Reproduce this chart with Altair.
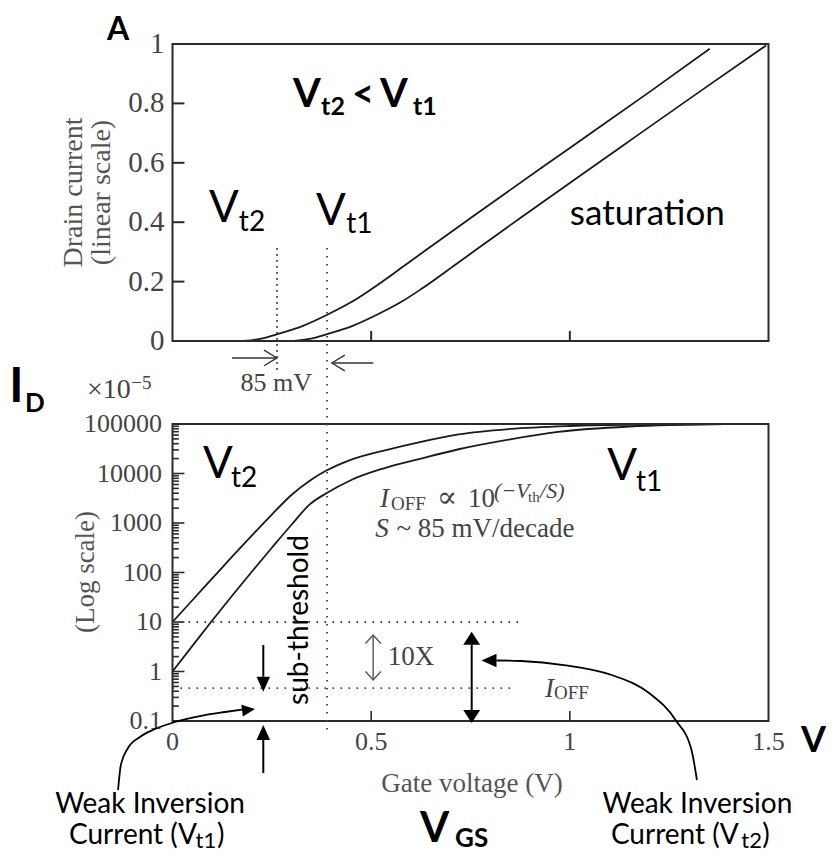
import altair as alt
import pandas as pd

SERIF = "Liberation Serif"
SANS = "Lato"
INK = "#1a1a1a"
GRAY = "#444444"
TGRAY = "#555555"

# ---------------- data ----------------
# top panel (linear drain current)
top_v_vt2 = [0.18, 0.22, 0.266, 0.33, 0.392, 0.45, 0.501, 0.585, 0.675, 0.753, 1.0, 1.2, 1.352]
top_i_vt2 = [0.0, 0.007, 0.024, 0.052, 0.09, 0.131, 0.175, 0.255, 0.342, 0.417, 0.65, 0.838, 0.984]
top_v_vt1 = [0.305, 0.345, 0.391, 0.455, 0.517, 0.575, 0.626, 0.71, 0.80, 0.878, 1.125, 1.325, 1.494]
top_i_vt1 = [0.0, 0.007, 0.024, 0.052, 0.09, 0.131, 0.175, 0.255, 0.342, 0.417, 0.65, 0.838, 0.995]

# bottom panel (log drain current, x1e-5)
log_v_vt2 = [0, 0.05, 0.10, 0.15, 0.20, 0.25, 0.30, 0.35, 0.385, 0.45, 0.55, 0.62, 0.72, 0.85, 1.0, 1.2, 1.39]
log_i_vt2 = [10, 27.5, 75.9, 209, 562, 1480, 3720, 7590, 11200, 19100, 31600, 42700, 61700, 79400, 91200, 97700, 100000]
log_v_vt1 = [0, 0.05, 0.10, 0.15, 0.20, 0.25, 0.30, 0.346, 0.385, 0.45, 0.53, 0.62, 0.72, 0.85, 0.97, 1.15, 1.39]
log_i_vt1 = [1, 3.3, 10.7, 33.9, 105, 316, 933, 2400, 3890, 7410, 12600, 19500, 30900, 49000, 69200, 89100, 100000]

x_ticks = [0, 0.5, 1, 1.5]
x_labels = ["0", "0.5", "1", "1.5"]
lin_ticks = [0, 0.2, 0.4, 0.6, 0.8, 1]
lin_labels = ["0", "0.2", "0.4", "0.6", "0.8", "1"]
log_ticks = [0.1, 1, 10, 100, 1000, 10000, 100000]
log_labels = ["0.1", "1", "10", "100", "1000", "10000", "100000"]
minor_mult = [2, 3, 4, 5, 6, 7, 8, 9]

vt2_marker = 0.263   # V_t2 dotted marker
vt1_marker = 0.389   # V_t1 dotted marker
ioff_levels = [10, 0.46]

# ---------------- scales ----------------
XS = alt.Scale(domain=[0, 1.5], nice=False, zero=False)
TS = alt.Scale(domain=[0, 1], range=[297, 0], nice=False, zero=False)
BS = alt.Scale(type="log", domain=[0.1, 100000], range=[677, 380], nice=False)


def texts(rows, scale, **mk):
    df = pd.DataFrame(rows, columns=["x", "y", "t"])
    return alt.Chart(df).mark_text(**mk).encode(
        x=alt.X("x:Q", scale=XS, axis=None),
        y=alt.Y("y:Q", scale=scale, axis=None),
        text="t:N")


def rules(rows, scale, **mk):
    df = pd.DataFrame(rows, columns=["x", "x2", "y", "y2"])
    return alt.Chart(df).mark_rule(**mk).encode(
        x=alt.X("x:Q", scale=XS, axis=None), x2="x2:Q",
        y=alt.Y("y:Q", scale=scale, axis=None), y2="y2:Q")


def heads(rows, scale, shape, filled=True, **mk):
    df = pd.DataFrame(rows, columns=["x", "y", "a", "s"])
    return alt.Chart(df).mark_point(shape=shape, filled=filled, opacity=1, **mk).encode(
        x=alt.X("x:Q", scale=XS, axis=None),
        y=alt.Y("y:Q", scale=scale, axis=None),
        angle=alt.Angle("a:Q", scale=None),
        size=alt.Size("s:Q", scale=None))


CHEV = "M-1,-0.6L0,0L-1,0.6"
CHEV2 = "M-1,-0.9L0,0L-1,0.9"
TRI = "M0,0L-1,-0.45L-1,0.45Z"
TRI_W = "M0,0L-1,-0.65L-1,0.65Z"

# ---------------- top panel ----------------
top_df = pd.concat([
    pd.DataFrame({"x": top_v_vt2, "y": top_i_vt2, "s": "Vt2"}),
    pd.DataFrame({"x": top_v_vt1, "y": top_i_vt1, "s": "Vt1"}),
])
top_curves = alt.Chart(top_df).mark_line(color=INK, strokeWidth=1.8, interpolate="monotone").encode(
    x=alt.X("x:Q", scale=XS, axis=None),
    y=alt.Y("y:Q", scale=TS, axis=None),
    detail="s:N")

top_frame = alt.Chart(pd.DataFrame({"x": [0], "x2": [1.5], "y": [0], "y2": [1]})).mark_rect(
    filled=False, stroke="#2a2a2a", strokeWidth=2, fillOpacity=0).encode(
    x=alt.X("x:Q", scale=XS, axis=None), x2="x2:Q",
    y=alt.Y("y:Q", scale=TS, axis=None), y2="y2:Q")

top_ticks = rules([(0, 0.030, t, t) for t in lin_ticks[1:-1]] +
                  [(t, t, 0, 0.034) for t in x_ticks[1:-1]], TS, color="#2a2a2a", strokeWidth=2)

top_ylabels = texts([(-0.020, t, s) for t, s in zip(lin_ticks, lin_labels)], TS, font=SERIF,
                    fontSize=29, align="right", baseline="middle", color=GRAY)
top_ytitle = texts([(-0.2290, 0.5, "Drain current"), (-0.1585, 0.5, "(linear scale)")], TS,
                   font=SERIF, fontSize=28, angle=270, align="center", baseline="alphabetic", color=TGRAY)

top_dotted = rules([(vt2_marker, vt2_marker, 0.313, -0.104)], TS,
                   color=GRAY, strokeWidth=1.8, strokeDash=[1.6, 4.4])

top_arrows = rules([(0.150, 0.263, -0.057, -0.057), (0.505, 0.401, -0.074, -0.074)], TS,
                   color="#333333", strokeWidth=1.4)
top_chev = heads([(0.263, -0.057, 0, 676), (0.401, -0.074, 180, 676)], TS, CHEV, filled=False,
                 stroke="#333333", strokeWidth=1.4)

top_bold_big = texts([(-0.165, 1.0135, "A")], TS, font=SANS, fontSize=32, fontWeight="bold",
                     align="left", baseline="alphabetic", color="#000")
top_bold_v = texts([(0.303, 0.788, "V"), (0.522, 0.788, "V")], TS,
                   font=SANS, fontSize=40, fontWeight="bold", align="left", baseline="alphabetic", color="#000")
top_bold_lt = texts([(0.4518, 0.788, "<")], TS,
                    font=SANS, fontSize=38, fontWeight="bold", align="left", baseline="alphabetic", color="#000")
top_bold_sub = texts([(0.374, 0.761, "t2"), (0.6053, 0.761, "t1")], TS,
                     font=SANS, fontSize=25, fontWeight="bold", align="left", baseline="alphabetic", color="#000")
top_id = texts([(-0.411, -0.205, "I")], TS, font=SANS, fontSize=48, fontWeight="bold",
               align="left", baseline="alphabetic", color="#000")
top_id_sub = texts([(-0.371, -0.238, "D")], TS, font=SANS, fontSize=26, fontWeight="bold",
                   align="left", baseline="alphabetic", color="#000")
top_v = texts([(0.092, 0.401, "V"), (0.361, 0.391, "V")], TS, font=SANS, fontSize=44,
              align="left", baseline="alphabetic", color="#000")
top_v_sub = texts([(0.167, 0.370, "t2"), (0.437, 0.364, "t1")], TS, font=SANS, fontSize=28,
                  align="left", baseline="alphabetic", color="#000")
top_sat = texts([(1.0, 0.389, "saturation")], TS, font=SANS, fontSize=35,
                align="left", baseline="alphabetic", color="#000")
top_mv = texts([(0.261, -0.168, "85 mV")], TS, font=SERIF, fontSize=26,
               align="center", baseline="alphabetic", color=GRAY)
top_x10 = texts([(-0.215, -0.192, "×10")], TS, font=SERIF, fontSize=28,
                align="left", baseline="alphabetic", color=GRAY)
top_x10e = texts([(-0.104, -0.160, "−5")], TS, font=SERIF, fontSize=19,
                 align="left", baseline="alphabetic", color=GRAY)

top = alt.layer(top_curves, top_frame, top_ticks, top_ylabels, top_ytitle, top_dotted, top_arrows,
                top_chev, top_bold_big, top_bold_v, top_bold_lt, top_bold_sub, top_id, top_id_sub,
                top_v, top_v_sub, top_sat, top_mv, top_x10, top_x10e)

# ---------------- bottom panel ----------------
bot_df = pd.concat([
    pd.DataFrame({"x": log_v_vt2, "y": log_i_vt2, "s": "Vt2"}),
    pd.DataFrame({"x": log_v_vt1, "y": log_i_vt1, "s": "Vt1"}),
])
bot_curves = alt.Chart(bot_df).mark_line(color=INK, strokeWidth=1.8, interpolate="monotone").encode(
    x=alt.X("x:Q", scale=XS, axis=None),
    y=alt.Y("y:Q", scale=BS, axis=None),
    detail="s:N")

bot_frame = alt.Chart(pd.DataFrame({"x": [0], "x2": [1.5], "y": [0.1], "y2": [100000]})).mark_rect(
    filled=False, stroke="#2a2a2a", strokeWidth=2, fillOpacity=0).encode(
    x=alt.X("x:Q", scale=XS, axis=None), x2="x2:Q",
    y=alt.Y("y:Q", scale=BS, axis=None), y2="y2:Q")

minor_vals = [m * d for d in log_ticks[:-1] for m in minor_mult]
bot_ticks = rules([(0, 0.030, t, t) for t in log_ticks] +
                  [(0, 0.016, t, t) for t in minor_vals] +
                  [(t, t, 0.1, 0.159) for t in x_ticks[1:-1]], BS, color="#2a2a2a", strokeWidth=1.6)

bot_ylabels = texts([(-0.0264, t, s) for t, s in zip(log_ticks, log_labels)], BS, font=SERIF,
                    fontSize=26, align="right", baseline="middle", color=GRAY)
bot_xlabels = texts([(t, 0.02594, s) for t, s in zip(x_ticks, x_labels)], BS, font=SERIF,
                    fontSize=26, align="center", baseline="alphabetic", color=GRAY)
bot_ytitle = texts([(-0.1976, 102.3, "(Log scale)")], BS, font=SERIF, fontSize=27, angle=270,
                   align="center", baseline="alphabetic", color=TGRAY)
bot_xtitle = texts([(0.7537, 0.00368, "Gate voltage (V)")], BS, font=SERIF, fontSize=27,
                   align="center", baseline="alphabetic", color=TGRAY)

bot_dotted = rules([(vt1_marker, vt1_marker, 3.6e8, 0.0498),
                    (0, 0.879, ioff_levels[0], ioff_levels[0]),
                    (0, 0.854, ioff_levels[1], ioff_levels[1])], BS,
                   color=GRAY, strokeWidth=1.8, strokeDash=[1.6, 6.4])

bot_lines_black = rules([(0.753, 0.753, 3.48, 0.1668),
                         (0.2285, 0.2285, 3.43, 0.785),
                         (0.2285, 0.2285, 0.0089, 0.0413)], BS, color="#000", strokeWidth=2)
bot_heads_w = heads([(0.753, 6.37, 270, 676), (0.753, 0.0912, 90, 676)], BS, TRI_W, color="#000")
bot_heads = heads([(0.2285, 0.391, 90, 900), (0.2285, 0.0830, 270, 900),
                   (0.2076, 0.1746, 353, 676), (0.7777, 1.667, 180, 900)], BS, TRI, color="#000")

bot_10x_line = rules([(0.505, 0.505, 5.46, 0.673)], BS, color="#555555", strokeWidth=1.4)
bot_10x_heads = heads([(0.505, 5.46, 270, 289), (0.505, 0.673, 90, 289)], BS, CHEV2, filled=False,
                      stroke="#555555", strokeWidth=1.4)

curve_df = pd.DataFrame({
    "x": [-0.137, -0.130, -0.112, -0.082, -0.044, 0.006, 0.069, 0.132, 0.175,
          1.3199, 1.3062, 1.266, 1.1993, 1.1054, 0.9848, 0.8771, 0.8154],
    "y": [0.00403, 0.0129, 0.0285, 0.0476, 0.0689, 0.0955, 0.126, 0.152, 0.170,
          0.00643, 0.0259, 0.1047, 0.368, 0.849, 1.352, 1.629, 1.667],
    "c": ["L"] * 9 + ["R"] * 8,
    "o": list(range(9)) + list(range(8)),
})
bot_curved = alt.Chart(curve_df).mark_line(color="#000", strokeWidth=1.8, interpolate="monotone").encode(
    x=alt.X("x:Q", scale=XS, axis=None),
    y=alt.Y("y:Q", scale=BS, axis=None),
    detail="c:N", order="o:Q")

b_v = texts([(0.0768, 8110, "V"), (1.094, 7400, "V")], BS, font=SANS, fontSize=44,
            align="left", baseline="alphabetic", color="#000")
b_v_sub = texts([(0.147, 5330, "t2"), (1.1665, 4430, "t1")], BS, font=SANS, fontSize=28,
                align="left", baseline="alphabetic", color="#000")
b_sub = texts([(0.341, 10.96, "sub-threshold")], BS, font=SANS, fontSize=28, angle=270,
              align="center", baseline="alphabetic", color="#000")
b_weak = texts([(-0.0566, 0.001384, "Weak Inversion"), (1.321, 0.001384, "Weak Inversion")], BS,
               font=SANS, fontSize=28, align="center", baseline="alphabetic", color="#000")
b_cur = texts([(-0.2605, 0.000326, "Current (V"), (1.1033, 0.000326, "Current (V"),
               (0.112, 0.000326, ")"), (1.484, 0.000326, ")")], BS,
              font=SANS, fontSize=28, align="left", baseline="alphabetic", color="#000")
b_cur_sub = texts([(0.0579, 0.000275, "t1"), (1.4316, 0.000275, "t2")], BS,
                  font=SANS, fontSize=22, align="left", baseline="alphabetic", color="#000")
b_vgs = texts([(0.6229, 0.00036, "V")], BS, font=SANS, fontSize=42, fontWeight="bold",
              align="left", baseline="alphabetic", color="#000")
b_vgs_sub = texts([(0.711, 0.000285, "GS")], BS, font=SANS, fontSize=26, fontWeight="bold",
                  align="left", baseline="alphabetic", color="#000")
b_vright = texts([(1.5818, 0.02366, "V")], BS, font=SANS, fontSize=36, fontWeight="bold",
                 align="left", baseline="alphabetic", color="#000")

f_it = texts([(0.522, 2100, "I"), (0.510, 521, "S"), (0.9375, 0.3097, "I")], BS, font=SERIF,
             fontSize=27, fontStyle="italic", align="left", baseline="alphabetic", color=GRAY)
f_off = texts([(0.550, 1830, "OFF"), (0.960, 0.278, "OFF")], BS, font=SERIF, fontSize=19,
              align="left", baseline="alphabetic", color=GRAY)
f_prop = texts([(0.6657, 2100, "∝")], BS, font="DejaVu Serif", fontSize=30,
               align="left", baseline="alphabetic", color=GRAY)
f_up = texts([(0.7437, 2100, "10"), (0.5637, 521, "~ 85 mV/decade"), (0.542, 1.35, "10X")], BS,
             font=SERIF, fontSize=27, align="left", baseline="alphabetic", color=GRAY)
f_sup = texts([(0.809, 3200, "(−V"), (0.925, 3200, "/S)")], BS, font=SERIF, fontSize=22,
              fontStyle="italic", align="left", baseline="alphabetic", color=GRAY)
f_sup2 = texts([(0.8947, 2655, "th")], BS, font=SERIF, fontSize=15,
               align="left", baseline="alphabetic", color=GRAY)

bottom = alt.layer(bot_curves, bot_frame, bot_ticks, bot_ylabels, bot_xlabels, bot_ytitle, bot_xtitle,
                   bot_dotted, bot_lines_black, bot_heads_w, bot_heads, bot_10x_line, bot_10x_heads,
                   bot_curved, b_v, b_v_sub, b_sub, b_weak, b_cur, b_cur_sub, b_vgs, b_vgs_sub,
                   b_vright, f_it, f_off, f_prop, f_up, f_sup, f_sup2)

chart = alt.layer(top, bottom).resolve_scale(y="independent").properties(
    width=596, height=677,
    autosize=alt.AutoSizeParams(type="none"),
    padding={"left": 164.5, "top": 36, "right": 57.5, "bottom": 132},
    background="white",
).configure_view(strokeWidth=0)

chart.save("out.html", embed_options={"renderer": "svg", "actions": False})
